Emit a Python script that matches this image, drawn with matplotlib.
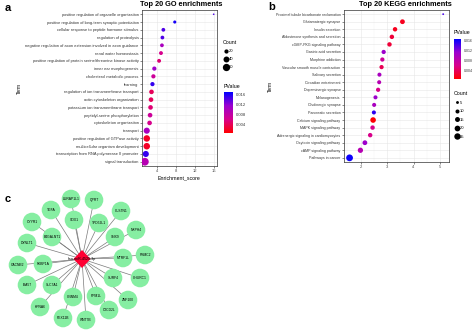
import matplotlib
matplotlib.use('Agg')
import matplotlib.pyplot as plt
import numpy as np
from matplotlib.colors import LinearSegmentedColormap, Normalize
from matplotlib.cm import ScalarMappable
from matplotlib.lines import Line2D
from matplotlib.patches import Circle, Polygon, Rectangle

plt.rcParams['font.family'] = ['Liberation Sans', 'DejaVu Sans']

# ---- panel a: GO ----
go_terms = [
    'positive regulation of organelle organization',
    'positive regulation of long-term synaptic potentiation',
    'cellular response to peptide hormone stimulus',
    'regulation of proteolysis',
    'negative regulation of axon extension involved in axon guidance',
    'renal water homeostasis',
    'positive regulation of protein serine/threonine kinase activity',
    'inner ear morphogenesis',
    'cholesterol metabolic process',
    'learning',
    'regulation of ion transmembrane transport',
    'actin cytoskeleton organization',
    'potassium ion transmembrane transport',
    'peptidyl-serine phosphorylation',
    'cytoskeleton organization',
    'transport',
    'positive regulation of GTPase activity',
    'multicellular organism development',
    'transcription from RNA polymerase II promoter',
    'signal transduction',
]
go_score = [15.9, 7.7, 5.3, 5.1, 5.0, 4.8, 4.4, 3.4, 3.2, 3.0,
            2.8, 2.7, 2.6, 2.5, 2.4, 1.8, 1.8, 1.8, 1.6, 1.4]
go_count = [3, 11, 16, 16, 16, 17, 17, 20, 20, 20,
            24, 24, 24, 24, 24, 42, 48, 48, 42, 68]
go_pvalue = [0.014, 0.016, 0.014, 0.014, 0.010, 0.006, 0.005, 0.011, 0.007, 0.015,
             0.004, 0.004, 0.005, 0.007, 0.006, 0.010, 0.002, 0.002, 0.015, 0.009]

# ---- panel b: KEGG ----
kegg_terms = [
    'Proximal tubule bicarbonate reclamation',
    'Glutamatergic synapse',
    'Insulin secretion',
    'Aldosterone synthesis and secretion',
    'cGMP-PKG signaling pathway',
    'Gastric acid secretion',
    'Morphine addiction',
    'Vascular smooth muscle contraction',
    'Salivary secretion',
    'Circadian entrainment',
    'Dopaminergic synapse',
    'Melanogenesis',
    'Cholinergic synapse',
    'Pancreatic secretion',
    'Calcium signaling pathway',
    'MAPK signaling pathway',
    'Adrenergic signaling in cardiomyocytes',
    'Oxytocin signaling pathway',
    'cAMP signaling pathway',
    'Pathways in cancer',
]
kegg_score = [5.12, 3.58, 3.30, 3.18, 3.09, 2.87, 2.82, 2.79, 2.71, 2.70,
              2.66, 2.56, 2.51, 2.50, 2.47, 2.45, 2.36, 2.16, 1.99, 1.58]
kegg_count = [2, 14, 12, 12, 12, 11, 11, 11, 10, 10,
              11, 10, 10, 10, 19, 12, 12, 14, 17, 28]
kegg_pvalue = [0.014, 0.002, 0.002, 0.003, 0.003, 0.011, 0.007, 0.004, 0.010, 0.009,
               0.006, 0.011, 0.010, 0.015, 0.001, 0.006, 0.006, 0.011, 0.009, 0.016]

# ---- panel c: network ----
hub_label = 'hsa-miR-4529-3p'
hub_x, hub_y = 82, 259
gene_labels = ['LURAP1L1', 'QPRT', 'TGFA', 'CLSTN1', 'SOX1', 'CYYR1', 'TPD52L1',
               'NXPH4', 'B4GALNT1', 'SNX9', 'DYNLT1', 'PSMC2', 'MTRF1L', 'CACNB2',
               'FKBP1A', 'CHURC1', 'SURF4', 'IBA57', 'SLC7A1', 'ZNF100', 'PPM1L',
               'CNNM4', 'KPNA6', 'C2CD2L', 'PEX11B', 'WNT7B']
gene_x = [71, 94, 51, 121, 74, 32, 99, 136, 52, 115, 27, 145, 123, 18,
          43, 140, 113, 27, 52, 128, 96, 73, 40, 109, 63, 86]
gene_y = [199, 200, 210, 211, 220, 222, 223, 230, 237, 237, 243, 255, 258, 265,
          264, 278, 278, 285, 285, 300, 296, 297, 307, 310, 318, 320]

W, H = 474, 330
fig = plt.figure(figsize=(W / 100, H / 100), dpi=100)


def fbox(l, t, r, b):
    return [l / W, 1 - b / H, (r - l) / W, (b - t) / H]


cmap = LinearSegmentedColormap.from_list('pv', ['#ff0000', '#d8008c', '#9b00cf', '#0000ff'])


def dotplot(ax, terms, score, count, pv, k, xlim, xticks, minor, norm, fs):
    n = len(terms)
    ypos = np.arange(n, 0, -1)
    ax.scatter(score, ypos, s=np.array(count) * k, c=pv, cmap=cmap, norm=norm,
               edgecolors='none', zorder=3)
    ax.set_ylim(0.45, n + 0.55)
    ax.set_xlim(*xlim)
    ax.set_yticks(ypos)
    ax.set_yticklabels(terms, fontsize=fs, color='#4d4d4d')
    ax.set_xticks(xticks)
    ax.set_xticks(minor, minor=True)
    ax.tick_params(axis='x', labelsize=3, colors='#333333', labelcolor='#4d4d4d', length=1.5, width=0.4, pad=1)
    ax.tick_params(axis='y', colors='#333333', length=1.5, width=0.4, pad=1)
    ax.tick_params(which='minor', length=0)
    ax.grid(which='major', color='#e6e6e6', lw=0.4, zorder=0)
    ax.grid(which='minor', axis='x', color='#f2f2f2', lw=0.3, zorder=0)
    ax.set_axisbelow(True)
    for sp in ax.spines.values():
        sp.set_color('#333333')
        sp.set_linewidth(0.5)
    ax.set_xlabel('Enrichment_score', fontsize=3.8, labelpad=1.5)
    ax.set_ylabel('Term', fontsize=3.5, labelpad=2)


def pv_bar(box, norm, title_xy, fs):
    cax = fig.add_axes(fbox(*box))
    cb = fig.colorbar(ScalarMappable(norm=norm, cmap=cmap), cax=cax,
                      ticks=[0.004, 0.008, 0.012, 0.016])
    cb.outline.set_visible(False)
    cb.ax.set_yticklabels(['0.004', '0.008', '0.012', '0.016'])
    cb.ax.tick_params(labelsize=fs, length=1.5, width=0.4, colors='white', labelcolor='#333333', pad=0.8)
    fig.text(title_xy[0] / W, 1 - title_xy[1] / H, 'PValue', fontsize=3.8, va='center')


def count_legend(levels, k, xy, spacing):
    handles = [Line2D([], [], marker='o', ls='', color='black', markeredgewidth=0,
                      markersize=np.sqrt(c * k)) for c in levels]
    fig.legend(handles, [str(c) for c in levels], title='Count', loc='upper left',
               bbox_to_anchor=(xy[0] / W, 1 - xy[1] / H), frameon=False, fontsize=3,
               title_fontsize=3.8, handletextpad=0.2, labelspacing=spacing,
               borderaxespad=0, borderpad=0, handlelength=1.2, alignment='left')


# panel a
ax_a = fig.add_axes(fbox(142, 10, 217, 166))
norm_a = Normalize(0.0005, 0.0168)
dotplot(ax_a, go_terms, go_score, go_count, go_pvalue, 0.46, (0.8, 16.6),
        [4, 8, 12, 16], [2, 6, 10, 14], norm_a, 2.9)
fig.text(181.5 / W, 1 - 4 / H, 'Top 20 GO enrichments', fontsize=5.3, fontweight='bold',
         ha='center', va='center')
count_legend([20, 40, 60], 0.46, (223, 40), 1.0)
pv_bar((224, 92, 233, 133), norm_a, (224, 87), 3)

# panel b
ax_b = fig.add_axes(fbox(344, 10, 449, 162))
norm_b = Normalize(0.0009, 0.0164)
dotplot(ax_b, kegg_terms, kegg_score, kegg_count, kegg_pvalue, 0.85, (1.37, 5.34),
        [2, 3, 4, 5], [1.5, 2.5, 3.5, 4.5], norm_b, 2.6)
fig.text(405.5 / W, 1 - 4 / H, 'Top 20 KEGG enrichments', fontsize=5.3, fontweight='bold',
         ha='center', va='center')
pv_bar((454, 39, 461, 79), norm_b, (454, 33), 2.5)
count_legend([5, 10, 15, 20, 25], 0.85, (454, 91), 1.1)

# the reference crop cuts panel b off below its x axis
fig.patches.append(Rectangle((237 / W, 0), 1, 1 - 170 / H, transform=fig.transFigure,
                             fc='white', ec='none', zorder=10))

# panel c
ax_c = fig.add_axes([0, 0, 160 / W, 145 / H])
ax_c.set_xlim(0, 160)
ax_c.set_ylim(330, 185)
ax_c.axis('off')
for gx, gy, lab in zip(gene_x, gene_y, gene_labels):
    ax_c.plot([hub_x, gx], [hub_y, gy], color='#7a7a7a', lw=0.5, zorder=1)
    ax_c.add_patch(Circle((gx, gy), 9.3, fc='#86eea2', ec='none', zorder=2))
    ax_c.text(gx, gy, lab, fontsize=2.4, ha='center', va='center', zorder=3)
ax_c.add_patch(Polygon([(hub_x, hub_y - 9), (hub_x + 8.5, hub_y), (hub_x, hub_y + 9),
                        (hub_x - 8.5, hub_y)], fc='#ff0033', ec='none', zorder=4))
ax_c.text(hub_x, hub_y, hub_label, fontsize=2.6, ha='center', va='center', zorder=5)

fig.text(5 / W, 1 - 8 / H, 'a', fontsize=8, fontweight='bold', va='center')
fig.text(268 / W, 1 - 7 / H, 'b', fontsize=8, fontweight='bold', va='center')
fig.text(5 / W, 1 - 199 / H, 'c', fontsize=8, fontweight='bold', va='center')

fig.savefig('out.png', dpi=100)
